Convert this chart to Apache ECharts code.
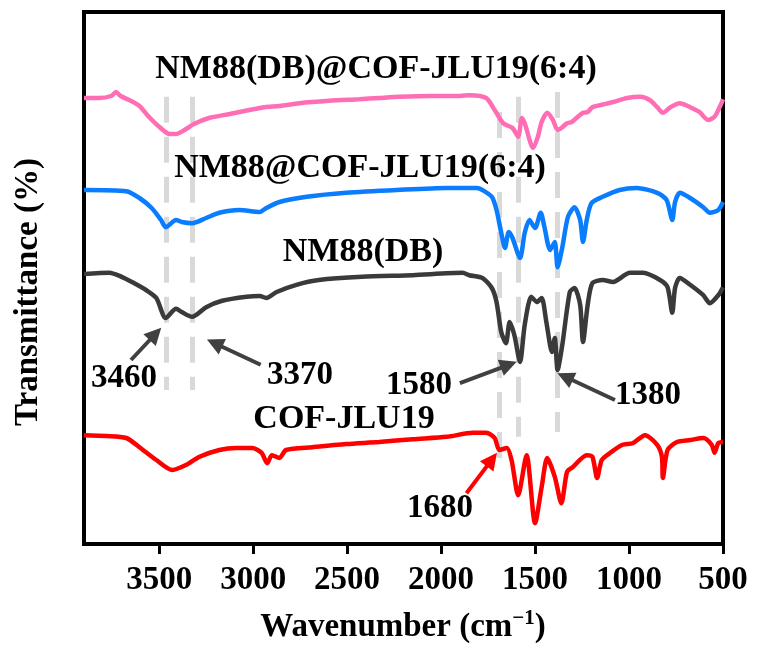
<!DOCTYPE html>
<html>
<head>
<meta charset="utf-8">
<title>FTIR</title>
<script src="https://cdn.jsdelivr.net/npm/echarts@6/dist/echarts.min.js"></script>
<style>
  html, body { margin: 0; background: #fff; }
  #chart { width: 759px; height: 655px; }
</style>
</head>
<body>
<div id="chart"></div>
<script>
// x ticks (wavenumber, cm-1)
const xTicks = [500, 1000, 1500, 2000, 2500, 3000, 3500]

// spectra, [wavenumber, transmittance (offset, a.u.)]
const nm88DbCof = [[3900,111.5],[3820,111.5],[3755,112],[3730,113],[3705,112],[3660,111],[3605,109.5],[3555,106.8],[3500,104.3],[3445,102.5],[3410,102.5],[3365,103.5],[3315,105],[3235,106.5],[3125,107.5],[3020,108.5],[2940,109.2],[2860,109.5],[2755,110.2],[2595,110.8],[2435,111.2],[2330,111.5],[2220,111.8],[2060,112],[1900,112],[1850,112.2],[1760,111.5],[1715,108.5],[1670,105.2],[1620,104],[1590,101.8],[1570,106.5],[1555,105.2],[1510,99],[1485,101.8],[1465,105.5],[1435,107.8],[1405,106],[1380,103.5],[1355,104.2],[1330,105.2],[1305,105.5],[1280,106.5],[1245,107.8],[1220,108],[1195,109.2],[1145,109.8],[1085,110.5],[1010,111.5],[940,111.8],[890,111],[850,109.2],[820,107.8],[780,109.2],[730,110.2],[675,109.2],[625,108],[580,106],[545,106.8],[515,109.5],[500,111.2]]

const nm88Cof = [[3900,88.5],[3675,88.2],[3605,86.5],[3540,84],[3490,81],[3465,79.2],[3410,81],[3380,80.5],[3325,80.2],[3250,81.5],[3180,82.8],[3075,83.5],[2965,83],[2930,84],[2860,85.5],[2715,86.8],[2505,87.8],[2235,88.5],[1970,89],[1810,89],[1780,88.5],[1730,86.8],[1705,83.5],[1680,77.8],[1660,74],[1640,78],[1620,76.5],[1580,71.5],[1555,77.8],[1530,81],[1500,79],[1470,82.8],[1450,79.2],[1420,73.5],[1395,75.5],[1380,69.2],[1355,74.2],[1325,81.8],[1290,84.2],[1260,81],[1245,75.5],[1225,81],[1200,85.2],[1140,86.8],[1050,88.5],[960,89],[850,87.8],[800,86],[770,81],[755,85.5],[730,87.8],[675,86.5],[605,84.2],[570,82.8],[525,83.5],[500,85.5]]

const nm88Db = [[3900,67.5],[3765,67.8],[3700,66.8],[3645,65.5],[3570,63.5],[3515,61.5],[3465,56.5],[3410,58.8],[3380,58],[3325,56.8],[3250,59.2],[3165,60.8],[3035,61.8],[2965,62],[2930,61.5],[2875,63],[2770,64.8],[2650,66],[2420,66.8],[2150,67.2],[1885,67.8],[1850,67.2],[1780,66.5],[1730,64],[1705,60.5],[1680,53],[1655,50.2],[1635,55.5],[1610,52.2],[1580,45.5],[1555,54.8],[1520,61.8],[1490,60.5],[1465,61.5],[1440,55.5],[1410,48],[1395,51.5],[1380,43.5],[1355,49.8],[1315,63],[1290,64],[1260,59.8],[1245,50.5],[1220,59.8],[1195,65.2],[1140,66],[1085,65.5],[995,67.8],[925,67.8],[835,66],[795,64.2],[770,57.8],[755,64],[730,66.5],[675,64.8],[605,62.2],[570,60.2],[525,62.2],[500,64.2]]

const cofJlu19 = [[3900,27.2],[3780,27],[3675,26.5],[3605,24.2],[3515,21],[3430,18.5],[3355,19.8],[3285,21.8],[3180,23.5],[3090,24],[3005,24],[2955,22.8],[2925,20.2],[2900,22.2],[2860,21.5],[2825,23.5],[2685,24.2],[2505,25],[2330,25.5],[2150,26.2],[1970,26.8],[1830,27.8],[1760,27.8],[1715,26.5],[1690,23.5],[1650,24],[1625,21],[1590,12.2],[1545,22.2],[1500,5.2],[1465,14.2],[1435,21.5],[1395,16.8],[1360,10.2],[1330,18],[1300,19.2],[1225,22.2],[1195,21.8],[1170,16.5],[1145,21],[1100,22.8],[1035,24.8],[980,25.2],[915,27.2],[850,24.8],[825,21.8],[820,16.5],[795,23.5],[745,25.5],[675,26],[605,26.5],[560,24.8],[545,22.8],[525,25.2],[500,25.5]]

// grey dashed guide lines
const guideWn = [3465, 3325, 1690, 1590, 1380]
const guideTop = [111.8, 111.8, 108, 111.8, 113]
const guideBottom = [38.5, 38.5, 19.2, 26.8, 28]

// arrows: tail -> head
const arrowFrom = [[3650, 46], [2960, 44.8], [1900, 40.2], [1075, 36], [1865, 12.7]]
const arrowTo = [[3520, 52.5], [3205, 50.2], [1640, 44.8], [1340, 41.8], [1730, 21.1]]
const arrowColor = ['#404040', '#404040', '#404040', '#404040', '#ff0000']

const FONT = '"Liberation Serif", "Times New Roman", serif'

const chart = echarts.init(document.getElementById('chart'))

const text = (str, x, y, size, extra) => ({
  type: 'text',
  x: x,
  y: y,
  z: 100,
  ...extra,
  style: {
    text: str,
    fill: '#000',
    font: 'bold ' + size + 'px ' + FONT,
    align: 'center',
    verticalAlign: 'middle'
  }
})

const spectrum = (name, data, color) => ({
  name: name,
  type: 'line',
  data: data,
  showSymbol: false,
  smooth: 0.25,
  z: 5,
  lineStyle: { color: color, width: 4.5 }
})

chart.setOption({
  animation: false,
  backgroundColor: '#fff',
  grid: {
    left: 84,
    right: 36,
    top: 12,
    bottom: 111,
    show: true,
    borderColor: '#000',
    borderWidth: 4,
    outerBoundsMode: 'none'
  },
  xAxis: {
    type: 'value',
    inverse: true,
    min: 500,
    max: 3900,
    interval: 500,
    splitLine: { show: false },
    axisLine: { show: true, lineStyle: { color: '#000', width: 4 } },
    axisTick: { show: true, customValues: xTicks, length: 10, lineStyle: { color: '#000', width: 3 } },
    axisLabel: {
      customValues: xTicks,
      formatter: v => String(v),
      margin: 20,
      color: '#000',
      fontFamily: FONT,
      fontWeight: 'bold',
      fontSize: 33
    }
  },
  yAxis: {
    type: 'value',
    min: 0,
    max: 133,
    splitLine: { show: false },
    axisLine: { show: true, lineStyle: { color: '#000', width: 4 } },
    axisTick: { show: false },
    axisLabel: { show: false }
  },
  series: [
    {
      type: 'line',
      data: [],
      z: 1,
      markLine: {
        silent: true,
        symbol: ['none', 'none'],
        label: { show: false },
        lineStyle: { color: '#d9d9d9', width: 5, type: [26, 14] },
        data: guideWn.map((w, i) => [{ coord: [w, guideTop[i]] }, { coord: [w, guideBottom[i]] }])
      }
    },
    spectrum('NM88(DB)@COF-JLU19(6:4)', nm88DbCof, '#ff6eb4'),
    spectrum('NM88@COF-JLU19(6:4)', nm88Cof, '#0a7dff'),
    spectrum('NM88(DB)', nm88Db, '#3a3a3a'),
    spectrum('COF-JLU19', cofJlu19, '#ff0000'),
    {
      type: 'line',
      data: [],
      z: 10,
      markLine: {
        silent: true,
        symbol: ['none', 'triangle'],
        symbolSize: [17, 17],
        label: { show: false },
        data: arrowFrom.map((p, i) => [
          { coord: p, lineStyle: { color: arrowColor[i], width: 4, type: 'solid' }, itemStyle: { color: arrowColor[i] } },
          { coord: arrowTo[i] }
        ])
      }
    }
  ],
  graphic: [
    text('NM88(DB)@COF-JLU19(6:4)', 376, 69, 34),
    text('NM88@COF-JLU19(6:4)', 360, 168, 34),
    text('NM88(DB)', 363, 252, 34),
    text('COF-JLU19', 344, 419, 34),
    text('3460', 124, 378, 33),
    text('3370', 300, 375, 33),
    text('1580', 419, 385, 33),
    text('1380', 648, 395, 33),
    text('1680', 440, 508, 33),
    text('Transmittance (%)', 28, 292, 33, { rotation: Math.PI / 2 }),
    {
      type: 'text',
      x: 403,
      y: 627,
      z: 100,
      style: {
        text: '{a|Wavenumber (cm}{s|\u22121}{a|)}',
        align: 'center',
        verticalAlign: 'middle',
        rich: {
          a: { font: 'bold 33px ' + FONT, fill: '#000', lineHeight: 38 },
          s: { font: 'bold 21px ' + FONT, fill: '#000', verticalAlign: 'top', lineHeight: 24 }
        }
      }
    }
  ]
})
</script>
</body>
</html>
